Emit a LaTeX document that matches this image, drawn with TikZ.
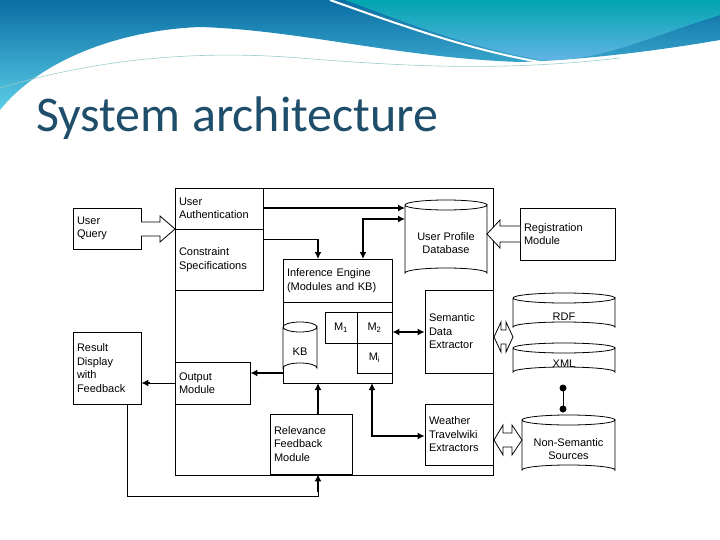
\documentclass[tikz,border=0pt]{standalone}
\usepackage{fontspec}
\setmainfont{Liberation Sans}
\newfontfamily\titlefont{Carlito}
\usetikzlibrary{arrows.meta}
\definecolor{titleblue}{RGB}{31,78,107}
\definecolor{waveA}{RGB}{10,110,165}
\definecolor{waveB}{RGB}{90,205,230}
\definecolor{tealA}{RGB}{0,165,175}
\definecolor{tealB}{RGB}{100,180,230}
\newcommand{\bx}[6]{\node[box,text width={#4-#2-8},minimum width={#4-#2},minimum height={#5-#3}] (#1) at ({(#2+#4)/2},{(#3+#5)/2}) {#6};}
\newcommand{\cyl}[6]{%
 \draw[thin,fill=white] (#2,#3+5) -- (#2,#5-5) arc[start angle=180,end angle=360,x radius={(#4-#2)/2},y radius=5] -- (#4,#3+5) arc[start angle=0,end angle=180,x radius={(#4-#2)/2},y radius=5];
 \draw[thin] (#2,#3+5) arc[start angle=180,end angle=360,x radius={(#4-#2)/2},y radius=5];
 \node[inner sep=0,align=center,font=\fontsize{11}{13}\selectfont] (#1) at ({(#2+#4)/2},{(#3+#5)/2+4}) {#6};}
\begin{document}
\begin{tikzpicture}[x=1pt,y=-1pt,
 box/.style={draw,line width=0.8pt,rectangle,inner sep=3pt,align=left,font=\fontsize{11}{13.5}\selectfont},
 thick arrow/.style={line width=2.2pt,-{Latex[length=7pt,width=7pt]}},
 dbl arrow/.style={line width=2.2pt,{Latex[length=7pt,width=7pt]}-{Latex[length=7pt,width=7pt]}},
 thin/.style={line width=0.8pt},
 hollow/.style={draw,line width=0.8pt,fill=white,line join=miter}]
\useasboundingbox (0,0) rectangle (720,540);
% header waves
\shade[top color=waveA,bottom color=waveB] (0,0) -- (720,0) -- (720,40) .. controls (650,52) and (580,60) .. (520,62) .. controls (400,58) and (300,30) .. (200,27) .. controls (120,30) and (40,60) .. (0,110) -- cycle;
\shade[top color=tealA,bottom color=tealB] (345,0) -- (720,0) -- (720,15) .. controls (640,40) and (600,62) .. (540,60) .. controls (460,45) and (400,20) .. (345,0) -- cycle;
\draw[white,line width=2pt] (330,0) .. controls (400,25) and (470,50) .. (540,62);
\draw[white!60!teal,line width=0.6pt] (0,88) .. controls (100,58) and (200,50) .. (300,58) .. controls (400,66) and (500,72) .. (620,58);
\node[anchor=base west,inner sep=0,text=titleblue,font=\titlefont\fontsize{50}{50}\selectfont] (title) at (36,132) {System architecture};
% main outer box
\draw[thin] (175,188) rectangle (493,475);
\bx{uq}{73}{208}{141}{249}{User\\Query}
\bx{auth}{175}{188}{263}{229}{User\\Authentication}
\bx{cons}{175}{229}{263}{290}{Constraint\\Specifications}
\bx{res}{73}{332}{141}{404}{Result\\Display\\with\\Feedback}
\bx{out}{175}{362}{250}{404}{Output\\Module}
\node[draw,line width=0.8pt,minimum width=109,minimum height=124] (iebox) at (337.5,321) {};
\bx{ie}{283}{259}{392}{302}{Inference Engine\\(Modules and KB)}
\node[box,align=center,minimum width=32,minimum height=31] (m1) at (341,327.5) {M\textsubscript{1}};
\node[box,align=center,minimum width=35,minimum height=31] (m2) at (374.5,327.5) {M\textsubscript{2}};
\node[box,align=center,minimum width=35,minimum height=30] (mi) at (374.5,358) {M\textsubscript{i}};
\cyl{kb}{283}{322}{317}{373}{KB}
\bx{rel}{270}{414}{352}{474}{Relevance\\Feedback\\Module}
\bx{sem}{425}{290}{493}{373}{Semantic\\Data\\Extractor}
\bx{wea}{425}{404}{493}{465}{Weather\\Travelwiki\\Extractors}
\cyl{upd}{405}{200}{487}{278}{User Profile\\Database}
\bx{reg}{520}{208}{615}{260}{Registration\\Module}
\cyl{rdf}{513}{293}{615}{332}{RDF}
\cyl{xml}{513}{343}{615}{377}{XML}
\cyl{nss}{522}{415}{615}{475}{Non-Semantic\\Sources}
\fill (563,388) circle (3.5) coordinate (d1);
\fill (563,409) circle (3.5) coordinate (d2);
\draw[line width=1pt] (d1) -- (d2);
% hollow arrows
\draw[hollow] (141,222) -- (160,222) -- (160,216) -- (175,229) -- (160,242) -- (160,236) -- (141,236);
\draw[hollow] (520,226) -- (500,226) -- (500,220) -- (487,234) -- (500,248) -- (500,242) -- (520,242);
\draw[hollow] (494,337) -- (501,322) -- (501,330) -- (506,330) -- (506,322) -- (513,337) -- (506,352) -- (506,344) -- (501,344) -- (501,352) -- cycle;
\draw[hollow] (494,440) -- (503,425) -- (503,433) -- (512,433) -- (512,425) -- (522,440) -- (512,455) -- (512,447) -- (503,447) -- (503,455) -- cycle;
% connectors
\draw[thick arrow] (auth.east |- 0,208) -- (405,208);
\draw[dbl arrow] (363,259) |- (405,219);
\draw[thin] (263,239) -| (318,250);
\draw[thick arrow] (318,239) -- (318,259);
\draw[thick arrow] (283,373) -- (out.east |- 0,373);
\draw[thin] (175,383) -- (150,383);
\draw[thick arrow] (150,383) -- (res.east |- 0,383);
\draw[dbl arrow] (m2.east |- 0,332) -- (sem.west |- 0,332);
\draw[thick arrow] (rel.north -| 318,0) -- (318,383);
\draw[dbl arrow] (372,383) |- (wea.west |- 0,436);
\draw[thin] (127,404) |- (318,496) -- (318,490);
\draw[thick arrow] (318,492) -- (rel.south -| 318,0);
\end{tikzpicture}
\end{document}
